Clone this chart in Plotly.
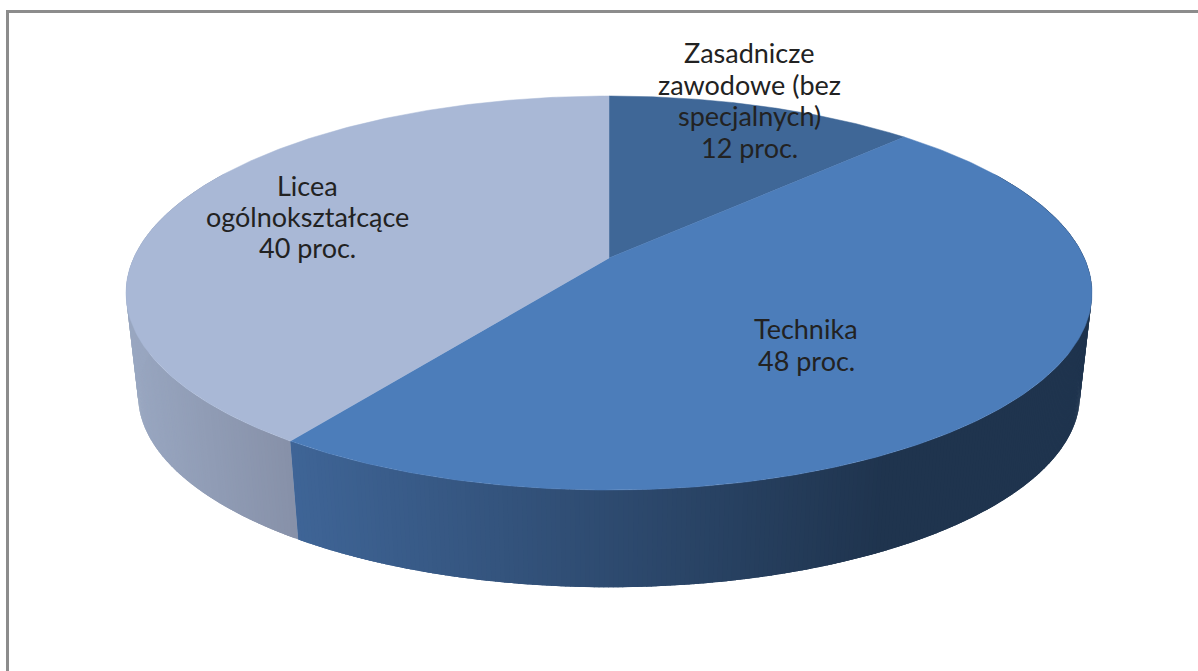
import numpy as np
import plotly.graph_objects as go

# Data
categories = [["Zasadnicze", "zawodowe (bez", "specjalnych)"], ["Technika"], ["Licea", "ogólnokształcące"]]
shares = [12, 48, 40]
unit = "proc."

# Styles
top_colors = ["#3f6797", "#4c7dba", "#a9b8d6"]
wall_left = [(63, 103, 151), (63, 101, 151), (153, 167, 193)]
wall_right = [(31, 52, 78), (31, 52, 78), (135, 145, 169)]
label_pos = [(749, 100), (806, 344.5), (307, 216.5)]
LINE_STEP = 31.4

# Perspective pie geometry (page pixels, y down)
CX, CY = 609, 258
K = 0.1777
A, B = 475.3, 190.8
SCALE_BOTTOM, DROP = 0.975, 103
VIEW_WARP = 1.8  # degrees of angular stretch from the 3D view


def project(deg, scale=1.0, drop=0.0):
    a = np.radians(deg + VIEW_WARP * np.sin(np.radians(deg)))
    X, Y = np.sin(a), np.cos(a)
    d = 1 + K * Y
    return CX + scale * A * X / d, CY + drop - scale * B * Y / d


edges = np.concatenate([[0], np.cumsum(shares)]) / sum(shares) * 360
fig = go.Figure()

# side wall, as narrow strips shaded left to right
wall_span = {1: (288, 880), 2: (130, 290)}
for i in [2, 1]:
    lo, hi = max(edges[i], 60), min(edges[i + 1], 300)
    angles = np.linspace(lo, hi, int(hi - lo) * 2 + 1)
    for a0, a1 in zip(angles[:-1], angles[1:]):
        seg = np.linspace(a0, min(a1 + 0.6, hi), 4)
        xt, yt = project(seg)
        xb, yb = project(seg[::-1], SCALE_BOTTOM, DROP)
        xm = (xt.mean() + xb.mean()) / 2
        x0, x1 = wall_span[i]
        t = float(np.clip((xm - x0) / (x1 - x0), 0, 1))
        c = [round(l + (r - l) * t) for l, r in zip(wall_left[i], wall_right[i])]
        col = f"rgb({c[0]},{c[1]},{c[2]})"
        fig.add_trace(go.Scatter(
            x=np.concatenate([xt, xb, xt[:1]]), y=np.concatenate([yt, yb, yt[:1]]),
            mode="lines", fill="toself", fillcolor=col,
            line=dict(color=col, width=0), hoverinfo="skip", showlegend=False))

# top face
for i in range(3):
    arc = np.linspace(edges[i], edges[i + 1], 240)
    xa, ya = project(arc)
    fig.add_trace(go.Scatter(
        x=np.concatenate([[CX], xa, [CX]]), y=np.concatenate([[CY], ya, [CY]]),
        mode="lines", fill="toself", fillcolor=top_colors[i],
        line=dict(color=top_colors[i], width=0.5),
        name=" ".join(categories[i]), showlegend=False, hoverinfo="name"))

# labels, one annotation per line for the tight leading
annotations = []
for lines, v, p in zip(categories, shares, label_pos):
    rows = lines + [f"{v} {unit}"]
    for j, row in enumerate(rows):
        annotations.append(dict(
            x=p[0], y=p[1] + (j - (len(rows) - 1) / 2) * LINE_STEP, xref="x", yref="y",
            text=row, showarrow=False, xanchor="center", yanchor="middle",
            font=dict(family="Lato", size=27, color="#222222")))

frame = dict(color="#8c8c8c", width=3)
fig.update_layout(
    width=1198, height=671, margin=dict(l=0, r=0, t=0, b=0),
    paper_bgcolor="white", plot_bgcolor="white", showlegend=False,
    xaxis=dict(range=[0, 1198], visible=False, fixedrange=True),
    yaxis=dict(range=[671, 0], visible=False, fixedrange=True),
    annotations=annotations,
    shapes=[
        dict(type="line", xref="x", yref="y", x0=7.5, x1=7.5, y0=11, y1=671, line=frame),
        dict(type="line", xref="x", yref="y", x0=6, x1=1198, y0=11.5, y1=11.5, line=frame),
    ],
)
fig.write_html("out.html", config={"displayModeBar": False},
               post_script="document.body.style.margin='0';document.documentElement.style.overflow='hidden';")
